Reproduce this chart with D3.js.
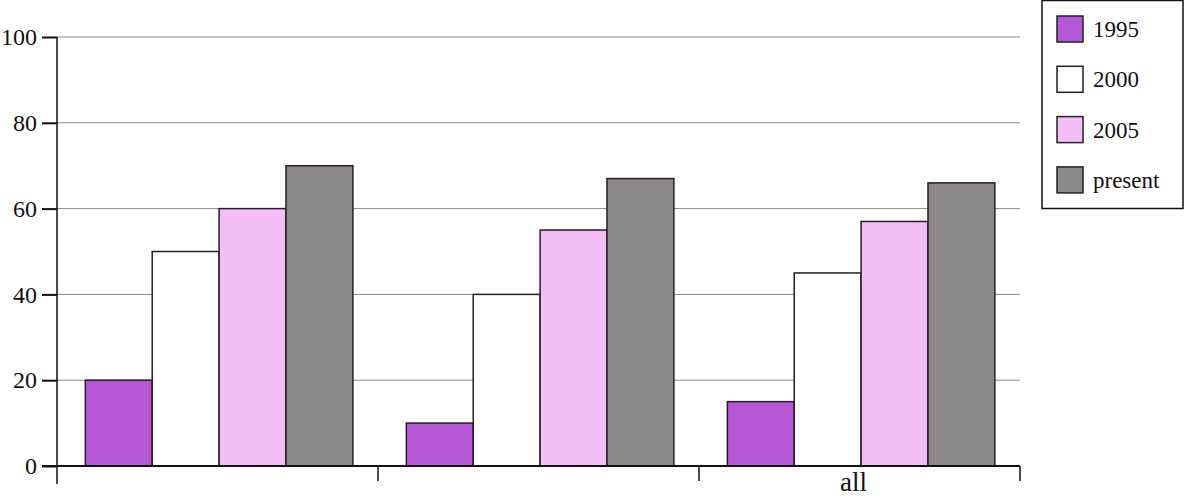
<!DOCTYPE html>
<html>
<head>
<meta charset="utf-8">
<script src="https://cdn.jsdelivr.net/npm/d3@7"></script>
<style>
  html, body { margin: 0; padding: 0; background: #fff; }
  svg { display: block; }
  text { font-family: "Liberation Serif", "DejaVu Serif", serif; fill: #111; }
</style>
</head>
<body>
<svg id="chart" width="1186" height="500"></svg>
<script>
const categories = ["", "", "all"];
const seriesNames = ["1995", "2000", "2005", "present"];
const values1995 = [20, 10, 15];
const values2000 = [50, 40, 45];
const values2005 = [60, 55, 57];
const valuesPresent = [70, 67, 66];
const yTicks = [0, 20, 40, 60, 80, 100];

const seriesValues = [values1995, values2000, values2005, valuesPresent];
const colors = ["#b558d6", "#ffffff", "#f3bdf6", "#8b8987"];
const fontFam = "Liberation Serif, DejaVu Serif, serif";

const svg = d3.select("#chart");
const plotLeft = 57, plotRight = 1020, plotTop = 37, plotBottom = 466;

const x0 = d3.scaleBand().domain(d3.range(categories.length)).range([plotLeft, plotRight]).paddingInner(0).paddingOuter(0);
const x1 = d3.scaleBand().domain(d3.range(seriesNames.length)).range([0, x0.bandwidth()]).paddingOuter(0.4).paddingInner(0).align(0.53);
const y = d3.scaleLinear().domain([0, 100]).range([plotBottom, plotTop]);

// gridlines
svg.append("g").selectAll("line").data(yTicks.filter(d => d > 0)).join("line")
  .attr("x1", plotLeft).attr("x2", plotRight)
  .attr("y1", d => y(d)).attr("y2", d => y(d))
  .attr("stroke", "#8a8a8a").attr("stroke-width", 1);

// bars
const groups = svg.append("g").selectAll("g").data(categories).join("g")
  .attr("transform", (d, i) => `translate(${x0(i)},0)`);
groups.selectAll("rect")
  .data((d, i) => seriesValues.map((s, k) => ({k, v: s[i]})))
  .join("rect")
  .attr("x", d => x1(d.k))
  .attr("width", x1.bandwidth())
  .attr("y", d => y(d.v))
  .attr("height", d => y(0) - y(d.v))
  .attr("fill", d => colors[d.k])
  .attr("stroke", "#2a1a2a")
  .attr("stroke-width", 1.5);

// y axis
const yAxis = d3.axisLeft(y).tickValues(yTicks).tickSize(15).tickPadding(5).tickSizeOuter(0);
const gy = svg.append("g").attr("transform", `translate(${plotLeft},0)`).call(yAxis);
gy.select(".domain").remove();
gy.selectAll(".tick line").attr("stroke", "#111").attr("stroke-width", 2);
gy.selectAll(".tick text").style("font-size", "24px").style("font-family", fontFam).attr("fill", "#111");
svg.append("line").attr("x1", plotLeft).attr("x2", plotLeft).attr("y1", plotTop).attr("y2", 484)
  .attr("stroke", "#111").attr("stroke-width", 1.5);

// x axis
const xAxis = d3.axisBottom(x0).tickSize(0).tickFormat(i => categories[i]).tickPadding(6);
const gx = svg.append("g").attr("transform", `translate(-6,${plotBottom})`).call(xAxis);
gx.select(".domain").remove();
gx.selectAll(".tick text").style("font-size", "27px").style("font-family", fontFam).attr("fill", "#111");
svg.append("line").attr("x1", plotLeft - 15).attr("x2", plotRight).attr("y1", plotBottom).attr("y2", plotBottom)
  .attr("stroke", "#111").attr("stroke-width", 2);
svg.append("g").selectAll("line").data(d3.range(1, categories.length + 1)).join("line")
  .attr("x1", i => x0.step() * i + plotLeft).attr("x2", i => x0.step() * i + plotLeft)
  .attr("y1", plotBottom).attr("y2", plotBottom + 15)
  .attr("stroke", "#111").attr("stroke-width", 1.5);

// legend
const lg = svg.append("g");
lg.append("rect").attr("x", 1042).attr("y", 0.5).attr("width", 141).attr("height", 208)
  .attr("fill", "#fff").attr("stroke", "#111").attr("stroke-width", 1.5);
const items = lg.selectAll("g.item").data(seriesNames).join("g").attr("class", "item")
  .attr("transform", (d, i) => `translate(1057,${16 + i * 50.3})`);
items.append("rect").attr("width", 26).attr("height", 26)
  .attr("fill", (d, i) => colors[i]).attr("stroke", "#222").attr("stroke-width", 1.5);
items.append("text").attr("x", 36).attr("y", 21).text(d => d)
  .style("font-size", "23px").style("font-family", fontFam);
</script>
</body>
</html>
